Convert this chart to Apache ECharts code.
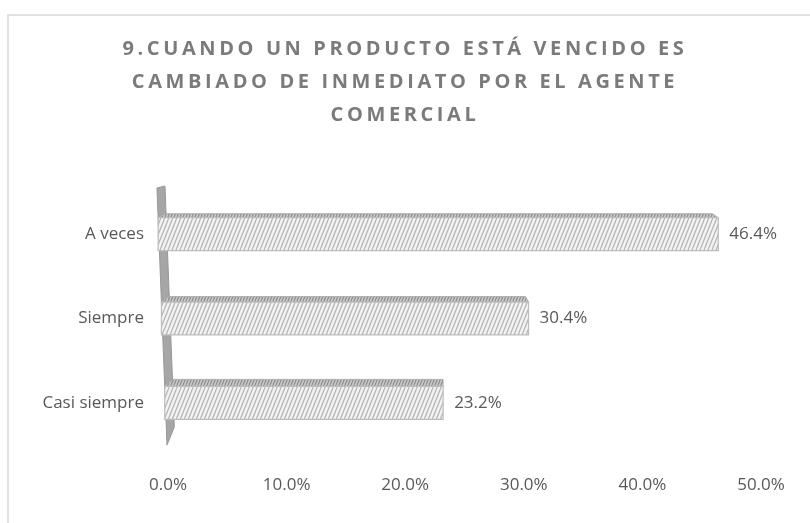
<!DOCTYPE html>
<html>
<head>
<meta charset="utf-8">
<script src="https://cdn.jsdelivr.net/npm/echarts@6/dist/echarts.min.js"></script>
<style>
  html, body { margin: 0; padding: 0; background: #fff; }
  #chart { width: 810px; height: 523px; }
</style>
</head>
<body>
<div id="chart"></div>
<script>
// data
const titleText = '9.CUANDO UN PRODUCTO ESTÁ VENCIDO ES\nCAMBIADO DE INMEDIATO POR EL AGENTE\nCOMERCIAL';
const categories = ['Casi siempre', 'Siempre', 'A veces'];
const values = [23.2, 30.4, 46.4];
const xTicks = [0, 10, 20, 30, 40, 50];

const labelFont = '"Open Sans", sans-serif';
const textColor = '#595959';

// small canvas tiles for the hatched fills
function hatch(w, h, bg, fg, lw) {
    let c = document.createElement('canvas');
    c.width = w;
    c.height = h;
    let ctx = c.getContext('2d');
    ctx.fillStyle = bg;
    ctx.fillRect(0, 0, w, h);
    ctx.strokeStyle = fg;
    ctx.lineWidth = lw;
    for (let k = -w; k <= w; k += w) {
        ctx.beginPath();
        ctx.moveTo(k, h);
        ctx.lineTo(k + w, 0);
        ctx.stroke();
    }
    return c;
}
const frontFill = { image: hatch(4, 10, '#f4f4f4', '#b5b5b5', 1.3), repeat: 'repeat' };
const topFill = { image: hatch(3, 7, '#cccccc', '#888888', 1.1), repeat: 'repeat' };

const chart = echarts.init(document.getElementById('chart'), null, { renderer: 'canvas' });

// the title sits on its own layer so it can get letter spacing
try {
    let layer = chart.getZr().painter.getLayer(1);
    layer.ctx.letterSpacing = '3.6px';
} catch (e) {}

// slanted back wall of the 3d chart, x position at a given y
function wallX(cs, y) {
    return cs.x - 11 + 10 * (y - (cs.y - 4)) / (cs.height + 4);
}

function renderWall(params, api) {
    let cs = params.coordSys;
    let top = cs.y - 5;
    let bottom = cs.y + cs.height;
    return {
        type: 'polygon',
        shape: {
            points: [
                [wallX(cs, top), top + 1],
                [wallX(cs, top) + 8, top - 1],
                [wallX(cs, bottom - 18) + 8, bottom - 18],
                [wallX(cs, bottom), bottom]
            ]
        },
        style: { fill: '#a6a6a6', stroke: '#979797', lineWidth: 1 }
    };
}

function renderBar(params, api) {
    let cs = params.coordSys;
    let v = api.value(0);
    let i = api.value(1);
    let c0 = api.coord([0, i]);
    let c1 = api.coord([v, i]);
    let band = api.size([0, 1])[1];
    let h = band * 0.39;
    let yTop = c0[1] - h / 2;
    let xl = wallX(cs, yTop);
    let xr = c1[0];
    let t = (yTop - cs.y) / cs.height;
    let depth = 4 + 3 * (t - 0.1) / 0.67;
    let dx = -6 * (0.77 - t) / 0.67;
    return {
        type: 'group',
        children: [{
            type: 'polygon',
            shape: {
                points: [
                    [xl + 8, yTop - depth],
                    [xr + dx, yTop - depth],
                    [xr, yTop],
                    [xl, yTop]
                ]
            },
            style: { fill: topFill, stroke: '#b0b0b0', lineWidth: 1 }
        }, {
            type: 'rect',
            shape: { x: xl, y: yTop, width: xr - xl, height: h },
            style: { fill: frontFill, stroke: '#bdbdbd', lineWidth: 1.2 }
        }, {
            type: 'text',
            style: {
                text: v.toFixed(1) + '%',
                x: xr + 11,
                y: c0[1],
                align: 'left',
                verticalAlign: 'middle',
                fill: textColor,
                font: '17px ' + labelFont
            }
        }]
    };
}

const option = {
    animation: false,
    backgroundColor: '#fff',
    title: {
        text: titleText,
        left: 'center',
        top: 33,
        padding: 0,
        zlevel: 1,
        textStyle: {
            fontFamily: labelFont,
            fontSize: 20,
            fontWeight: 'bold',
            color: '#7b7b7b',
            lineHeight: 33
        }
    },
    graphic: [{
        type: 'rect',
        shape: { x: 8, y: 15, width: 830, height: 540 },
        style: { fill: 'none', stroke: '#d9d9d9', lineWidth: 1.5 },
        silent: true
    }],
    grid: {
        left: 168,
        right: 49,
        top: 192,
        bottom: 78
    },
    xAxis: {
        type: 'value',
        min: xTicks[0],
        max: xTicks[xTicks.length - 1],
        interval: xTicks[1] - xTicks[0],
        axisLine: { show: false },
        axisTick: { show: false },
        splitLine: { show: false },
        axisLabel: {
            margin: 32,
            color: textColor,
            fontFamily: labelFont,
            fontSize: 17,
            formatter: v => v.toFixed(1) + '%'
        }
    },
    yAxis: {
        type: 'category',
        data: categories,
        axisLine: { show: false },
        axisTick: { show: false },
        axisLabel: {
            margin: 24,
            color: textColor,
            fontFamily: labelFont,
            fontSize: 17
        }
    },
    series: [{
        type: 'custom',
        name: 'wall',
        renderItem: renderWall,
        data: [[0, 0]],
        encode: { x: 0, y: 1 },
        silent: true,
        z: 1
    }, {
        type: 'custom',
        name: 'Porcentaje',
        renderItem: renderBar,
        data: values.map((v, i) => [v, i]),
        encode: { x: 0, y: 1 },
        z: 2
    }]
};

chart.setOption(option);
</script>
</body>
</html>
